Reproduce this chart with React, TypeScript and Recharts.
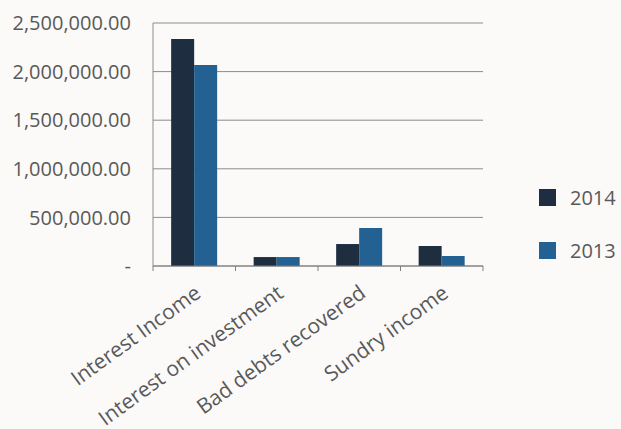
// Income breakdown — grouped bars 2014 vs 2013, accounting-style y axis
import { Bar, BarChart, CartesianGrid, XAxis, YAxis } from "recharts";

const categories = [
  "Interest Income",
  "Interest on investment",
  "Bad debts recovered",
  "Sundry income",
];
const values2014 = [2335000, 92000, 226000, 206000];
const values2013 = [2068000, 92000, 391000, 103000];
const yTicks = [0, 500000, 1000000, 1500000, 2000000, 2500000];

const seriesNames = ["2014", "2013"];
const seriesColors = ["#1F2D41", "#236192"];

const data = categories.map((name, i) => ({
  name,
  y2014: values2014[i],
  y2013: values2013[i],
}));

const FONT = "'Open Sans', sans-serif";
const TEXT = "#595959";

function fmt(v: number): string {
  if (v === 0) return "-";
  return v.toLocaleString("en-US", { minimumFractionDigits: 2, maximumFractionDigits: 2 });
}

function CategoryTick(props: any) {
  const { x, y, payload, index, visibleTicksCount } = props;
  const off = payload?.offset ?? 41;
  const last = index === (visibleTicksCount ?? categories.length) - 1;
  return (
    <g>
      <line x1={x - off} y1={y} x2={x - off} y2={y + 5} stroke="#7f7f7f" />
      {last && <line x1={x + off} y1={y} x2={x + off} y2={y + 5} stroke="#7f7f7f" />}
      <text
        transform={`translate(${x + 8},${y + 30}) rotate(-36)`}
        textAnchor="end"
        fill={TEXT}
        fontSize={21}
        fontFamily={FONT}
      >
        {payload.value}
      </text>
    </g>
  );
}

export default function App() {
  return (
    <div style={{ position: "fixed", left: 0, top: 0, width: 621, height: 429, background: "#FBFAF8" }}>
      <BarChart
        width={621}
        height={429}
        data={data}
        margin={{ top: 23, right: 138, bottom: 0, left: 0 }}
        barCategoryGap="22%"
        barGap={0}
      >
        <CartesianGrid vertical={false} stroke="#8c8c8c" />
        <XAxis
          dataKey="name"
          interval={0}
          height={163}
          tickSize={0}
          tickMargin={0}
          tick={<CategoryTick />}
          stroke="#7f7f7f"
        />
        <YAxis
          width={153}
          domain={[0, 2500000]}
          ticks={yTicks}
          tickFormatter={fmt}
          tickLine={false}
          tickSize={0}
          tickMargin={22}
          stroke="#8c8c8c"
          tick={{ fill: TEXT, fontSize: 20, fontFamily: FONT }}
        />
        <Bar dataKey="y2014" name="2014" fill={seriesColors[0]} isAnimationActive={false} />
        <Bar dataKey="y2013" name="2013" fill={seriesColors[1]} isAnimationActive={false} />
      </BarChart>
      <div style={{ position: "absolute", left: 539, top: 184, fontFamily: FONT, fontSize: 20, color: TEXT }}>
        {seriesNames.map((n, i) => (
          <div key={n} style={{ display: "flex", alignItems: "center", height: 27, marginBottom: i === 0 ? 26 : 0 }}>
            <span style={{ width: 17, height: 17, background: seriesColors[i], display: "inline-block", marginRight: 14 }} />
            <span>{n}</span>
          </div>
        ))}
      </div>
    </div>
  );
}
